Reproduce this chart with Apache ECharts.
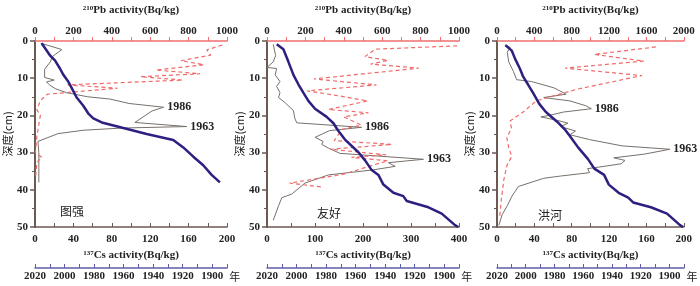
<!DOCTYPE html>
<html>
<head>
<meta charset="utf-8">
<script src="https://cdn.jsdelivr.net/npm/echarts@6/dist/echarts.min.js"></script>
<style>
html,body{margin:0;padding:0;background:#fff;}
#main{width:700px;height:286px;}
</style>
</head>
<body>
<div id="main"></div>
<script>
// 站点名称
var sites = ['图强', '友好', '洪河'];

// 137Cs 比活度 (灰线)
var csDepth1 = [0.6, 2.3, 4.2, 5.6, 7.6, 9.8, 10.5, 11.0, 11.8, 12.8, 13.9, 15.0, 15.6, 16.8, 17.8, 18.8, 21.9, 23.0, 23.4, 24.0, 24.9, 27.0, 30, 34, 38];
var cs1 = [6, 28, 18, 16, 10, 10, 20, 12, 15, 21, 33, 55, 78, 98, 134, 122, 104, 158, 90, 50, 24, 3, 4, 4, 4];
var csDepth2 = [0.9, 3.9, 5.6, 7.1, 7.4, 9.1, 10.9, 12.2, 13.9, 15.2, 16.5, 18.7, 20.8, 22.0, 23.2, 24.1, 25.9, 27.0, 27.8, 28.8, 30.2, 31.8, 32.7, 33.7, 34.7, 36.0, 38.2, 41.2, 42.1, 44.3, 48.2];
var cs2 = [13, 18, 13, 0, 20, 17, 27, 20, 27, 24, 37, 55, 58, 62, 197, 130, 100, 117, 114, 128, 152, 326, 253, 267, 218, 128, 79, 51, 31, 24, 13];
var csDepth3 = [1.1, 1.7, 3.0, 5.6, 8.2, 10.4, 10.9, 12.6, 14.3, 15.2, 16.1, 17.4, 18.2, 19.1, 20.0, 20.4, 21.3, 22.1, 23.0, 24.2, 25.2, 26.5, 28.2, 29.1, 30.4, 31.4, 32.1, 33.0, 33.9, 34.3, 35.4, 36.3, 36.9, 39.1, 41.7, 44.3, 46.7, 49.5];
var cs3 = [9, 14, 11, 12.5, 17.6, 21, 37, 61, 74, 50, 78, 95, 101, 71, 56, 47, 64, 76, 68, 84, 78, 99, 134, 185, 158, 125, 137, 133, 109, 97, 99, 68, 50, 23, 16, 11, 5.5, 2];

// 210Pb 比活度 (红虚线)
var pbDepth1 = [1.1, 2.4, 3.8, 5.3, 6.4, 7.8, 8.8, 9.6, 10.5, 11.8, 12.7, 14.3, 16.0, 18.5, 20.0, 25.5, 30.0, 31.3, 32.6, 37.0];
var pb1 = [975, 895, 915, 760, 880, 630, 860, 550, 770, 170, 430, 65, 28, 10, 28, 10, 2, 36, 10, 2];
var pbDepth2 = [1.3, 2.2, 4.2, 5.2, 6.2, 7.3, 10.2, 11.8, 13.4, 14.8, 16.1, 18.4, 19.3, 20.4, 22.6, 23.8, 26.8, 27.8, 29.1, 30.6, 31.3, 32.2, 33.4, 35.8, 38.2, 39.3];
var pb2 = [990, 565, 510, 630, 540, 790, 245, 570, 210, 380, 525, 320, 528, 400, 490, 390, 350, 650, 330, 620, 440, 630, 550, 400, 118, 292];
var pbDepth3 = [1.6, 3.6, 5.4, 7.3, 9.3, 13.0, 16.1, 19.1, 21.5, 23.5, 26.0, 28.6, 31.0, 33.4, 37.3, 43.0, 47.7];
var pb3 = [1700, 1040, 1570, 730, 1550, 850, 420, 280, 140, 155, 105, 125, 158, 107, 73, 45, 27];

// 年代-深度 (蓝线)
var ageDepth1 = [0.6, 3.9, 5.2, 7.4, 9.1, 10.9, 12.6, 15.2, 17.4, 19.5, 20.8, 21.9, 23.4, 25.0, 26.6, 28.6, 31.1, 33.4, 36.0, 38.0];
var age1 = [2015.5, 2009.8, 2006.5, 2003.1, 2000.8, 1997.5, 1995.2, 1991.8, 1987.3, 1983.9, 1980.5, 1974.8, 1960.2, 1944.4, 1926.4, 1919.6, 1912.8, 1906.1, 1900.4, 1894.8];
var ageDepth2 = [0.9, 2.2, 5.6, 9.1, 11.7, 13.9, 16.1, 18.2, 20.4, 22.1, 24.0, 26.5, 29.9, 32.1, 34.7, 36.0, 38.6, 40.8, 41.7, 43.0, 44.7, 46.4, 49.5, 50];
var age2 = [2013.4, 2008.9, 2005.5, 2002.1, 1998.7, 1995.4, 1992.0, 1987.5, 1979.6, 1975.0, 1972.0, 1967.2, 1958.1, 1953.6, 1949.1, 1944.6, 1941.2, 1934.4, 1927.7, 1925.4, 1910.7, 1901.7, 1892.7, 1890.5];
var ageDepth3 = [1.1, 2.6, 4.8, 7.4, 9.6, 11.7, 13.9, 16.9, 19.1, 21.7, 23.9, 25.6, 28.6, 31.7, 34.3, 36.0, 38.6, 40.8, 42.1, 43.4, 44.7, 46.4, 49.5, 50];
var age3 = [2014.2, 2009.7, 2007.4, 2004.1, 2001.8, 1998.4, 1995.0, 1990.6, 1986.0, 1978.2, 1972.5, 1969.2, 1963.6, 1956.8, 1952.3, 1945.5, 1942.2, 1935.4, 1928.7, 1925.3, 1912.9, 1901.7, 1892.7, 1890.5];

// 标记年份
var markYears = ['1986', '1963'];
var markIdx = [[14, 17], [14, 21], [12, 23]];

var csMax = [200, 400, 200];
var csStep = [20, 50, 20];
var pbMax = [1000, 1000, 2000];
var pbStep = [100, 100, 200];

var FONT = '"Liberation Serif", "Times New Roman", serif';
var CJK = '"Noto Sans CJK SC", sans-serif';
var lefts = [35, 267, 497];
var gridW = 192, gridTop = 34, gridH = 193;

var csData = [[cs1, csDepth1], [cs2, csDepth2], [cs3, csDepth3]];
var pbData = [[pb1, pbDepth1], [pb2, pbDepth2], [pb3, pbDepth3]];
var ageData = [[age1, ageDepth1], [age2, ageDepth2], [age3, ageDepth3]];

function zip(xs, ys) {
	var out = [];
	for (var i = 0; i < xs.length; i++) out.push([xs[i], ys[i]]);
	return out;
}

var supRich = {
	s: {fontSize: 7, fontFamily: FONT, fontWeight: 'bold', color: '#222', verticalAlign: 'top', padding: [0, 0, 4, 0]},
	t: {fontSize: 11, fontFamily: FONT, fontWeight: 'bold', color: '#222'}
};

var grid = [], xAxis = [], yAxis = [], series = [], title = [];
for (var p = 0; p < 3; p++) {
	grid.push({left: lefts[p], top: gridTop, width: gridW, height: gridH});
	// 210Pb 顶轴
	(function(step){
	xAxis.push({
		type: 'value', gridIndex: p, position: 'top', min: 0, max: pbMax[p], interval: step,
		axisLine: {lineStyle: {color: '#ee6f6f', width: 1.5}},
		axisTick: {length: 4, lineStyle: {color: '#ee6f6f', width: 1}},
		axisLabel: {margin: 4, fontSize: 11, fontFamily: FONT, fontWeight: 'bold', color: '#222',
			formatter: function(v){ return v % (2 * step) === 0 ? v : ''; }},
		splitLine: {show: false},
		name: '{s|210}{t|Pb activity(Bq/kg)}', nameLocation: 'middle', nameGap: 25,
		nameTextStyle: {rich: supRich}
	});
	})(pbStep[p]);
	// 137Cs 底轴
	(function(step){
	xAxis.push({
		type: 'value', gridIndex: p, position: 'bottom', min: 0, max: csMax[p], interval: step,
		axisLine: {lineStyle: {color: '#6b5a52', width: 1.5}},
		axisTick: {inside: true, length: 4, lineStyle: {color: '#6b5a52'}},
		axisLabel: {margin: 7, fontSize: 11, fontFamily: FONT, fontWeight: 'bold', color: '#222',
			formatter: function(v){ return v % (2 * step) === 0 ? v : ''; }},
		splitLine: {show: false},
		name: '{s|137}{t|Cs activity(Bq/kg)}', nameLocation: 'middle', nameGap: 23,
		nameTextStyle: {rich: supRich}
	});
	})(csStep[p]);
	// 年代轴
	xAxis.push({
		type: 'value', gridIndex: p, position: 'bottom', offset: 41, min: 1890, max: 2020, interval: 10, inverse: true,
		axisLine: {lineStyle: {color: '#5c5fa8', width: 1.5}},
		axisTick: {inside: true, length: 4, lineStyle: {color: '#5c5fa8'}},
		axisLabel: {margin: 3, fontSize: 11, fontFamily: FONT, fontWeight: 'bold', color: '#222',
			formatter: function(v){ return v % 20 === 0 ? v : ''; }},
		splitLine: {show: false},
		name: '年', nameLocation: 'start', nameGap: -7,
		nameTextStyle: {fontSize: 11, fontFamily: CJK, color: '#222', verticalAlign: 'top', padding: [3, 0, 0, 0]}
	});
	yAxis.push({
		type: 'value', gridIndex: p, min: 0, max: 50, interval: 10, inverse: true,
		axisLine: {lineStyle: {color: '#6b5a52', width: 2}},
		axisTick: {length: 5, lineStyle: {color: '#6b5a52', width: 1.5}},
		minorTick: {show: true, splitNumber: 2, length: 3, lineStyle: {color: '#6b5a52'}},
		axisLabel: {margin: 7, fontSize: 11, fontFamily: FONT, fontWeight: 'bold', color: '#222'},
		splitLine: {show: false},
		name: '深度(cm)', nameLocation: 'middle', nameRotate: 90, nameGap: 21,
		nameTextStyle: {fontSize: 11, fontFamily: CJK, color: '#222'}
	});

	var cs = csData[p], mk = markIdx[p];
	series.push({
		type: 'line', xAxisIndex: 3 * p + 1, yAxisIndex: p, symbol: 'none',
		data: zip(cs[0], cs[1]),
		lineStyle: {color: '#77706b', width: 1}, z: 2,
		markPoint: {
			symbol: 'circle', symbolSize: 1, itemStyle: {color: 'rgba(0,0,0,0)'},
			label: {show: true, position: 'right', distance: 3, fontSize: 12, fontFamily: FONT, fontWeight: 'bold', color: '#222', formatter: '{b}'},
			data: [
				{name: markYears[0], coord: [cs[0][mk[0]], cs[1][mk[0]]]},
				{name: markYears[1], coord: [cs[0][mk[1]], cs[1][mk[1]]]}
			]
		}
	});
	series.push({
		type: 'line', xAxisIndex: 3 * p, yAxisIndex: p, symbol: 'none',
		data: zip(pbData[p][0], pbData[p][1]),
		lineStyle: {color: '#f06a6a', width: 1.2, type: [4, 3]}, z: 3
	});
	series.push({
		type: 'line', xAxisIndex: 3 * p + 2, yAxisIndex: p, symbol: 'none',
		data: zip(ageData[p][0], ageData[p][1]),
		lineStyle: {color: '#2d2080', width: 2.5}, z: 4
	});
	title.push({
		text: sites[p], left: lefts[p] + [20, 45, 36][p], top: [200, 202, 204][p],
		textStyle: {fontSize: 12, fontFamily: CJK, fontWeight: 'normal', color: '#222'}
	});
}

var myChart = echarts.init(document.getElementById('main'));
myChart.setOption({
	animation: false,
	title: title,
	grid: grid,
	xAxis: xAxis,
	yAxis: yAxis,
	series: series
});
</script>
</body>
</html>
